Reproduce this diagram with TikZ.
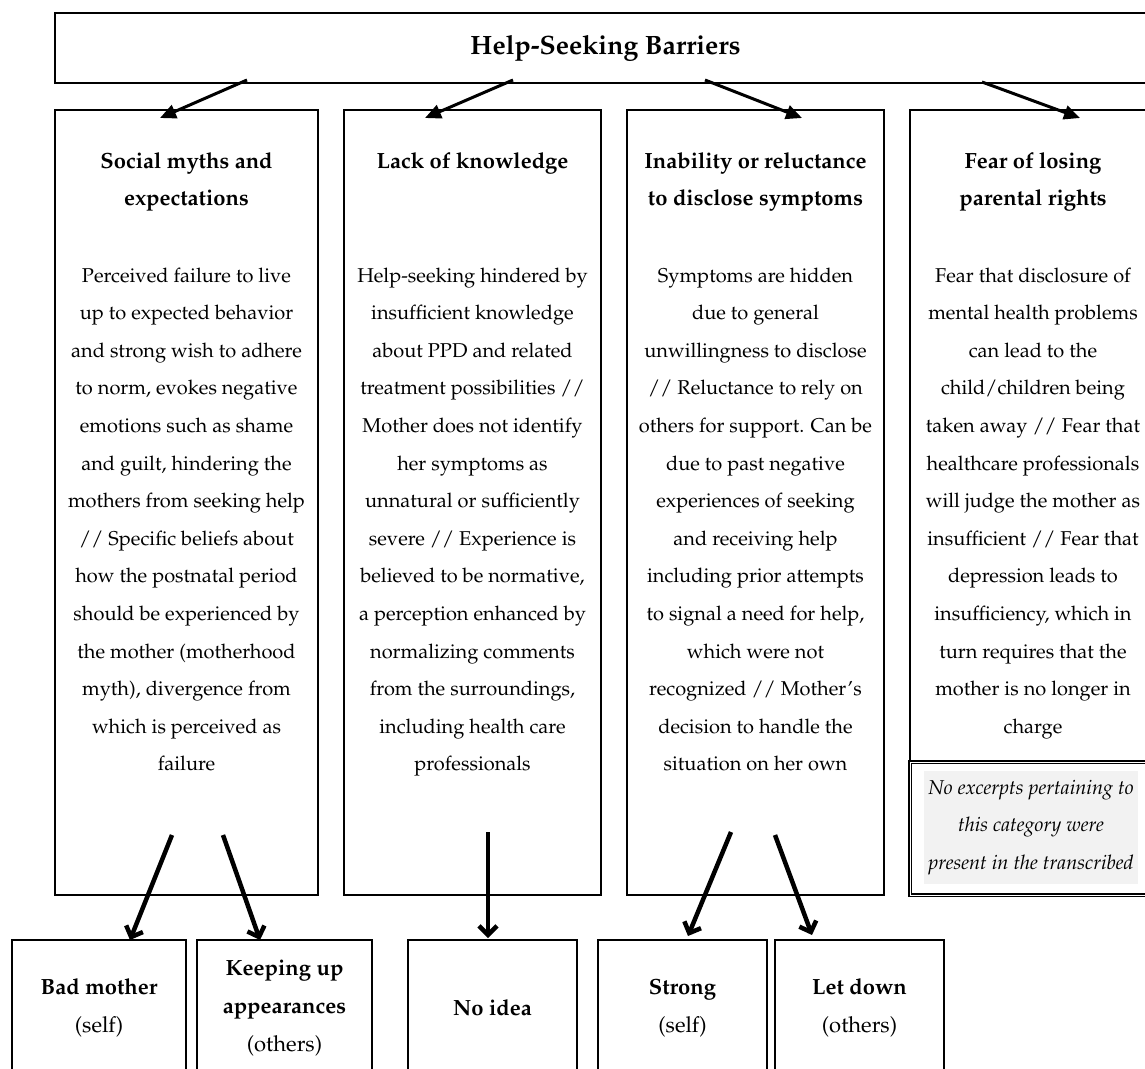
\documentclass[tikz,border=0pt]{standalone}
\usepackage[T1]{fontenc}
\usepackage{mathpazo}
\usetikzlibrary{arrows.meta,positioning}
\newcommand{\leadtxt}[1]{{\bfseries #1}}

\begin{document}
\begin{tikzpicture}[x=1pt, y=-1pt,
  box/.style={draw, line width=1.3pt, anchor=north west, inner sep=0pt, outer sep=0pt},
  head/.style={anchor=north, align=center, inner sep=0pt, font=\fontsize{22}{37.8}\selectfont\bfseries},
  body/.style={anchor=north, align=center, inner sep=0pt, font=\fontsize{20}{37.6}\selectfont},
  leaf/.style={draw, line width=2pt, anchor=north west, inner sep=0pt, outer sep=0pt, minimum height=136pt, align=center, font=\fontsize{22}{37.6}\selectfont},
  toparrow/.style={line width=3pt, -{Triangle[length=16pt,width=14pt]}},
  downarrow/.style={line width=4.5pt, -{Straight Barb[length=9pt,width=18pt]}}]
  \useasboundingbox (0,0) rectangle (1145,1068);
  \clip (0,0) rectangle (1145,1068);

  % Title bar
  \node[box, minimum width=1101pt, minimum height=70pt, font=\fontsize{26.5}{30}\selectfont\bfseries] (title) at (55,13) {Help-Seeking Barriers};

  % The four barrier columns
  \node[box, minimum width=263pt, minimum height=785pt] (col1) at (55,110) {};
  \node[box, minimum width=257pt, minimum height=785pt] (col2) at (344,110) {};
  \node[box, minimum width=257pt, minimum height=785pt] (col3) at (627,110) {};
  \node[box, minimum width=246pt, minimum height=785pt] (col4) at (910,110) {};
  \node[box, double, double distance=1pt, minimum width=246pt, minimum height=133pt] (sub4) at (910,762) {};
  \node[fill=black!5, minimum width=214pt, minimum height=113pt, inner sep=0pt, align=center,
        font=\fontsize{20}{37.6}\selectfont\itshape] (note) at (1031,827.5)
       {No excerpts pertaining to\\this category were\\present in the transcribed};

  % Headings
  \node[head] (h1) at (186.5,152) {Social myths and\\expectations};
  \node[head] (h2) at (472.5,152) {Lack of knowledge};
  \node[head] (h3) at (755.5,152) {Inability or reluctance\\to disclose symptoms};
  \node[head] (h4) at (1033,152) {Fear of losing\\parental rights};

  % Descriptions
  \node[body] (b1) at (186.5,267.5) {Perceived failure to live\\up to expected behavior\\and strong wish to adhere\\to norm, evokes negative\\emotions such as shame\\and guilt, hindering the\\mothers from seeking help\\// Specific beliefs about\\how the postnatal period\\should be experienced by\\the mother (motherhood\\myth), divergence from\\which is perceived as\\failure};
  \node[body] (b2) at (472.5,267.5) {Help-seeking hindered by\\insufficient knowledge\\about PPD and related\\treatment possibilities //\\Mother does not identify\\her symptoms as\\unnatural or sufficiently\\severe // Experience is\\believed to be normative,\\a perception enhanced by\\normalizing comments\\from the surroundings,\\including health care\\professionals};
  \node[body] (b3) at (755.5,267.5) {Symptoms are hidden\\due to general\\unwillingness to disclose\\// Reluctance to rely on\\others for support. Can be\\due to past negative\\experiences of seeking\\and receiving help\\including prior attempts\\to signal a need for help,\\which were not\\recognized // Mother's\\decision to handle the\\situation on her own};
  \node[body] (b4) at (1033,267.5) {Fear that disclosure of\\mental health problems\\can lead to the\\child/children being\\taken away // Fear that\\healthcare professionals\\will judge the mother as\\insufficient // Fear that\\depression leads to\\insufficiency, which in\\turn requires that the\\mother is no longer in\\charge};

  % Sub-themes
  \node[leaf, minimum width=174pt] (bad) at (12,940) {\leadtxt{Bad mother}\\(self)};
  \node[leaf, minimum width=175pt] (keep) at (197,940) {\leadtxt{Keeping up}\\\leadtxt{appearances}\\(others)};
  \node[leaf, minimum width=169pt] (noidea) at (408,940) {\leadtxt{No idea}};
  \node[leaf, minimum width=169pt] (strong) at (598,940) {\leadtxt{Strong}\\(self)};
  \node[leaf, minimum width=169pt] (letdown) at (775,940) {\leadtxt{Let down}\\(others)};

  % Arrows from the title
  \draw[toparrow] ([shift={(192,-3)}]title.south west) -- ([shift={(105,8)}]col1.north west);
  \draw[toparrow] ([shift={(458,-3)}]title.south west) -- ([shift={(81,8)}]col2.north west);
  \draw[toparrow] ([shift={(650,-3)}]title.south west) -- ([shift={(175,8)}]col3.north west);
  \draw[toparrow] ([shift={(927,-1)}]title.south west) -- ([shift={(170,8)}]col4.north west);

  % Arrows down to the sub-themes
  \draw[downarrow] ([shift={(117,-60)}]col1.south west) -- ([shift={(31,0)}]bad.north);
  \draw[downarrow] ([shift={(168,-60)}]col1.south west) -- ([shift={(-24.5,0)}]keep.north);
  \draw[downarrow] ([shift={(15.5,-63)}]col2.south) -- ([shift={(-4.5,-2)}]noidea.north);
  \draw[downarrow] ([shift={(-24.5,-63)}]col3.south) -- ([shift={(5.5,-4)}]strong.north);
  \draw[downarrow] ([shift={(19.5,-60)}]col3.south) -- ([shift={(-47.5,-5)}]letdown.north);
\end{tikzpicture}
\end{document}
